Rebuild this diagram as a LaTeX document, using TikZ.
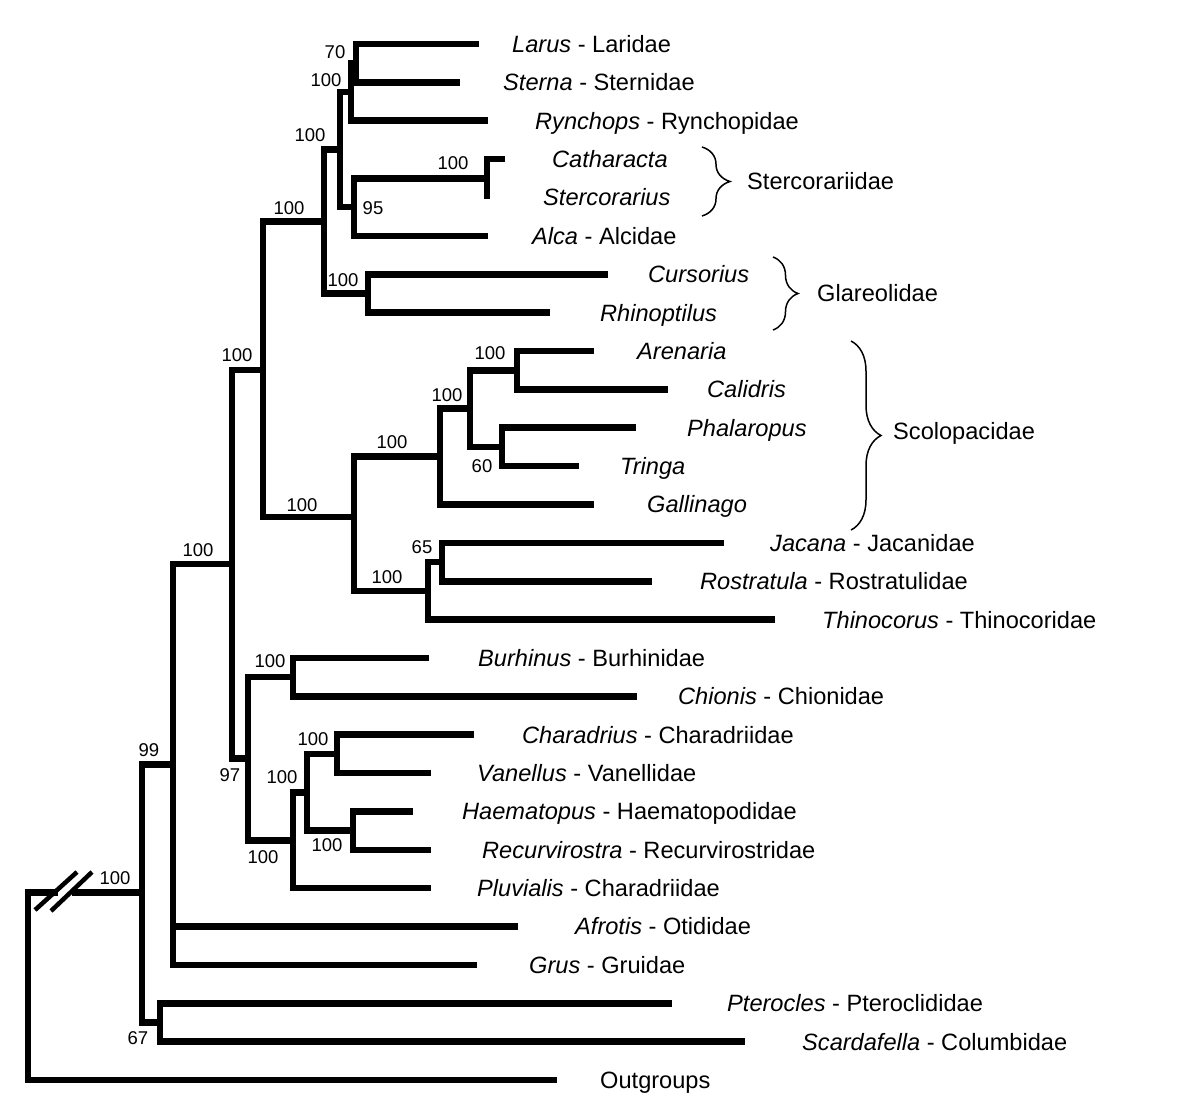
\documentclass[tikz,border=0pt]{standalone}
\usepackage{fontspec}
\setmainfont{Liberation Sans}
\usetikzlibrary{decorations.pathreplacing}
\begin{document}
\begin{tikzpicture}[x=1pt,y=-1pt,
  br/.style={line width=6.6pt, line cap=butt, line join=miter},
  sup/.style={font=\fontsize{18.5}{20}\selectfont, inner sep=0pt},
  tx/.style={anchor=base west, font=\fontsize{23.6}{26}\selectfont, inner sep=0pt},
  brc/.style={line width=1.5pt, decorate, decoration={brace, amplitude=#1, aspect=0.5}},
  slash/.style={line width=4.5pt}]
\useasboundingbox[fill=white] (0,0) rectangle (1194,1106);
% tips
\coordinate (t1) at (479,44);
\coordinate (t2) at (460,82.4);
\coordinate (t3) at (488,120.7);
\coordinate (t4) at (505,159.1);
\coordinate (t5) at (487,199);
\coordinate (t6) at (488,235.9);
\coordinate (t7) at (608,274.2);
\coordinate (t8) at (550,312.6);
\coordinate (t9) at (594,351);
\coordinate (t10) at (668,389.3);
\coordinate (t11) at (636,427.7);
\coordinate (t12) at (579,466.1);
\coordinate (t13) at (594,504.4);
\coordinate (t14) at (724,542.8);
\coordinate (t15) at (652,581.2);
\coordinate (t16) at (775,619.6);
\coordinate (t17) at (429,657.9);
\coordinate (t18) at (637,696.3);
\coordinate (t19) at (474,734.7);
\coordinate (t20) at (431,773);
\coordinate (t21) at (413,811.4);
\coordinate (t22) at (431,849.8);
\coordinate (t23) at (431,888.1);
\coordinate (t24) at (518,926.5);
\coordinate (t25) at (477,964.9);
\coordinate (t26) at (672,1003.3);
\coordinate (t27) at (745,1041.6);
\coordinate (t28) at (557,1080);
% internal nodes
\coordinate (nLS) at (356,63.2);
\coordinate (nLSR) at (351,92);
\coordinate (nCS) at (487,178.3);
\coordinate (nCSA) at (354,207);
\coordinate (nGull) at (340,149.5);
\coordinate (nGlar) at (368,293.4);
\coordinate (nLari) at (324,221.5);
\coordinate (nAC) at (517,370.2);
\coordinate (nPT) at (502,446.9);
\coordinate (nScolA) at (470,408.5);
\coordinate (nScol) at (440,456.5);
\coordinate (nJR) at (442,562);
\coordinate (nJRT) at (428,590.8);
\coordinate (nScJ) at (354,517);
\coordinate (nA) at (263,370);
\coordinate (nBC) at (293,677.1);
\coordinate (nCV) at (337,753.9);
\coordinate (nHR) at (353,830.6);
\coordinate (nCVHR) at (307,792.2);
\coordinate (nCHP) at (293,840.2);
\coordinate (nB) at (248,758.5);
\coordinate (nAB) at (232,564);
\coordinate (nC) at (173,764.5);
\coordinate (nPS) at (160,1022.5);
\coordinate (nD) at (142,892.5);
\coordinate (root) at (28,986);
% branches
\draw[br] (nLS) |- (t1);
\draw[br] (nLS) |- (t2);
\draw[br] (nLSR) |- (nLS);
\draw[br] (nLSR) |- (t3);
\draw[br] (nCS) |- (t4);
\draw[br] (nCS) |- (t5);
\draw[br] (nCSA) |- (nCS);
\draw[br] (nCSA) |- (t6);
\draw[br] (nGull) |- (nLSR);
\draw[br] (nGull) |- (nCSA);
\draw[br] (nGlar) |- (t7);
\draw[br] (nGlar) |- (t8);
\draw[br] (nLari) |- (nGull);
\draw[br] (nLari) |- (nGlar);
\draw[br] (nAC) |- (t9);
\draw[br] (nAC) |- (t10);
\draw[br] (nPT) |- (t11);
\draw[br] (nPT) |- (t12);
\draw[br] (nScolA) |- (nAC);
\draw[br] (nScolA) |- (nPT);
\draw[br] (nScol) |- (nScolA);
\draw[br] (nScol) |- (t13);
\draw[br] (nJR) |- (t14);
\draw[br] (nJR) |- (t15);
\draw[br] (nJRT) |- (nJR);
\draw[br] (nJRT) |- (t16);
\draw[br] (nScJ) |- (nScol);
\draw[br] (nScJ) |- (nJRT);
\draw[br] (nA) |- (nLari);
\draw[br] (nA) |- (nScJ);
\draw[br] (nBC) |- (t17);
\draw[br] (nBC) |- (t18);
\draw[br] (nCV) |- (t19);
\draw[br] (nCV) |- (t20);
\draw[br] (nHR) |- (t21);
\draw[br] (nHR) |- (t22);
\draw[br] (nCVHR) |- (nCV);
\draw[br] (nCVHR) |- (nHR);
\draw[br] (nCHP) |- (nCVHR);
\draw[br] (nCHP) |- (t23);
\draw[br] (nB) |- (nBC);
\draw[br] (nB) |- (nCHP);
\draw[br] (nAB) |- (nA);
\draw[br] (nAB) |- (nB);
\draw[br] (nC) |- (nAB);
\draw[br] (nC) |- (t24);
\draw[br] (nC) |- (t25);
\draw[br] (nPS) |- (t26);
\draw[br] (nPS) |- (t27);
\draw[br] (nD) |- (nC);
\draw[br] (nD) |- (nPS);
\draw[br] (root) |- (nD);
\draw[br] (root) |- (t28);
% break mark
\coordinate (g1) at (58,892.5);
\coordinate (g2) at (72,892.5);
\draw[white, line width=7.6pt] (g1) -- (g2);
\coordinate (s1a) at (35,910);
\coordinate (s1b) at (77,872);
\coordinate (s2a) at (51,911);
\coordinate (s2b) at (92,872);
\draw[slash] (s1a) -- (s1b);
\draw[slash] (s2a) -- (s2b);
% support values
\node[sup] (b1) at (335,52) {70};
\node[sup] (b2) at (326,80) {100};
\node[sup] (b3) at (310,135) {100};
\node[sup] (b4) at (453,163) {100};
\node[sup] (b5) at (373,208) {95};
\node[sup] (b6) at (289,208) {100};
\node[sup] (b7) at (343,280) {100};
\node[sup] (b8) at (237,355) {100};
\node[sup] (b9) at (490,353) {100};
\node[sup] (b10) at (447,395) {100};
\node[sup] (b11) at (392,442) {100};
\node[sup] (b12) at (482,466) {60};
\node[sup] (b13) at (302,505) {100};
\node[sup] (b14) at (422,547) {65};
\node[sup] (b15) at (387,577) {100};
\node[sup] (b16) at (198,550) {100};
\node[sup] (b17) at (270,661) {100};
\node[sup] (b18) at (149,750) {99};
\node[sup] (b19) at (230,775) {97};
\node[sup] (b20) at (313,739) {100};
\node[sup] (b21) at (282,777) {100};
\node[sup] (b22) at (327,845) {100};
\node[sup] (b23) at (263,857) {100};
\node[sup] (b24) at (115,878) {100};
\node[sup] (b25) at (138,1038) {67};
% taxon labels
\node[tx] (l1) at (512,52.4) {\textit{Larus} - Laridae};
\node[tx] (l2) at (503,90.8) {\textit{Sterna} - Sternidae};
\node[tx] (l3) at (535,129.1) {\textit{Rynchops} - Rynchopidae};
\node[tx] (l4) at (552,167.5) {\textit{Catharacta}};
\node[tx] (l5) at (543,205.9) {\textit{Stercorarius}};
\node[tx] (l6) at (532,244.3) {\textit{Alca} - Alcidae};
\node[tx] (l7) at (648,282.6) {\textit{Cursorius}};
\node[tx] (l8) at (600,321) {\textit{Rhinoptilus}};
\node[tx] (l9) at (637,359.4) {\textit{Arenaria}};
\node[tx] (l10) at (707,397.7) {\textit{Calidris}};
\node[tx] (l11) at (687,436.1) {\textit{Phalaropus}};
\node[tx] (l12) at (620,474.5) {\textit{Tringa}};
\node[tx] (l13) at (647,512.8) {\textit{Gallinago}};
\node[tx] (l14) at (770,551.2) {\textit{Jacana} - Jacanidae};
\node[tx] (l15) at (700,589.6) {\textit{Rostratula} - Rostratulidae};
\node[tx] (l16) at (822,628) {\textit{Thinocorus} - Thinocoridae};
\node[tx] (l17) at (478,666.3) {\textit{Burhinus} - Burhinidae};
\node[tx] (l18) at (678,704.7) {\textit{Chionis} - Chionidae};
\node[tx] (l19) at (522,743.1) {\textit{Charadrius} - Charadriidae};
\node[tx] (l20) at (477,781.4) {\textit{Vanellus} - Vanellidae};
\node[tx] (l21) at (462,819.8) {\textit{Haematopus} - Haematopodidae};
\node[tx] (l22) at (482,858.2) {\textit{Recurvirostra} - Recurvirostridae};
\node[tx] (l23) at (477,896.5) {\textit{Pluvialis} - Charadriidae};
\node[tx] (l24) at (575,934.9) {\textit{Afrotis} - Otididae};
\node[tx] (l25) at (529,973.3) {\textit{Grus} - Gruidae};
\node[tx] (l26) at (727,1011.7) {\textit{Pterocles} - Pteroclididae};
\node[tx] (l27) at (802,1050) {\textit{Scardafella} - Columbidae};
\node[tx] (l28) at (600,1088.4) {Outgroups};
% braces and family labels
\coordinate (k1a) at (702,147);
\coordinate (k1b) at (702,216);
\draw[brc=28] (k1a) -- (k1b);
\node[tx, anchor=west] (f1) at (747,181) {Stercorariidae};
\coordinate (k2a) at (773,257);
\coordinate (k2b) at (773,330);
\draw[brc=25] (k2a) -- (k2b);
\node[tx, anchor=west] (f2) at (817,293) {Glareolidae};
\coordinate (k3a) at (851,341);
\coordinate (k3b) at (851,530);
\draw[brc=30] (k3a) -- (k3b);
\node[tx, anchor=west] (f3) at (893,433) {Scolopacidae};
\end{tikzpicture}
\end{document}
